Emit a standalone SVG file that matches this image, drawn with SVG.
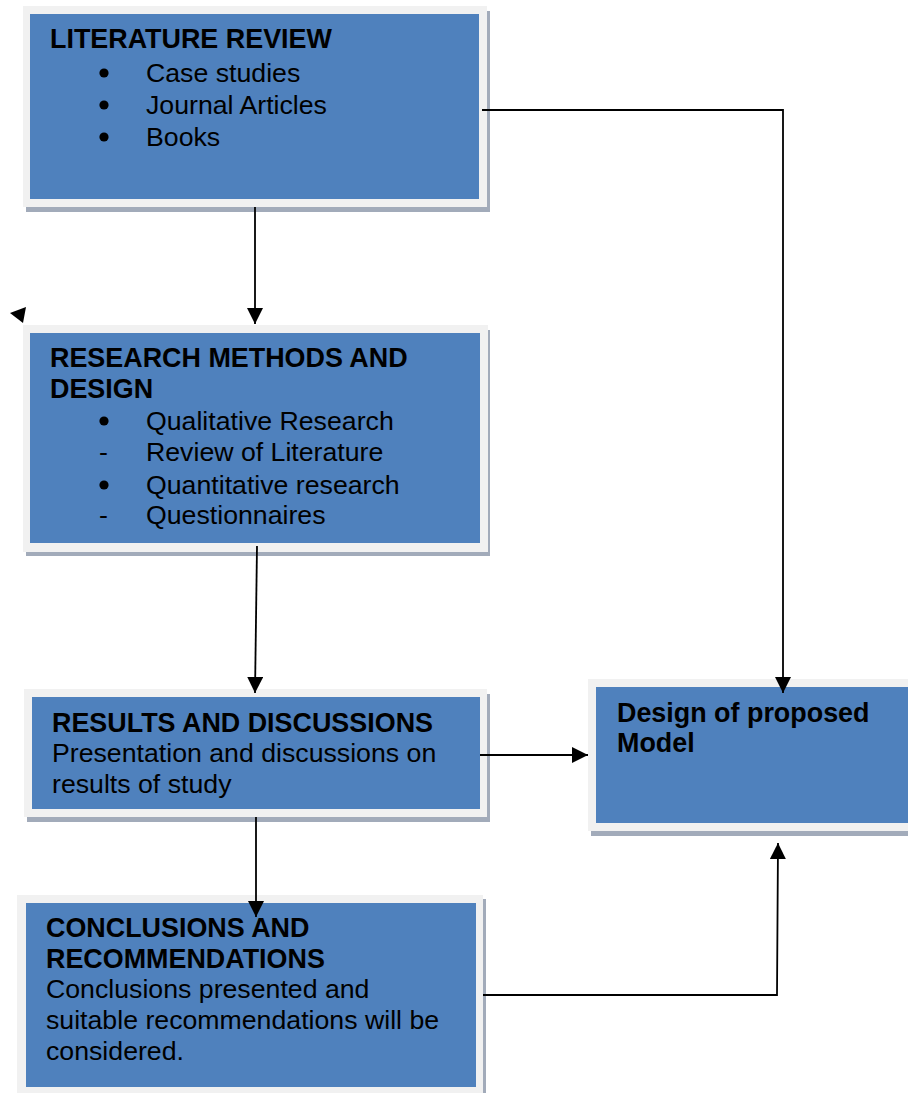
<svg xmlns="http://www.w3.org/2000/svg" width="908" height="1093" viewBox="0 0 908 1093">
  <style>
    .frame { fill: #f1f1f1; }
    .panel { fill: #4f81bd; }
    .shadow { fill: #a2abba; }
    .t { font-family: "Liberation Sans", Arial, sans-serif; font-size: 26.7px; fill: #000; }
    .b { font-weight: bold; font-size: 26.9px; }
    .dot { fill: #000; }
    .wire { fill: none; stroke: #000; stroke-width: 1.8; }
  </style>
  <defs>
    <marker id="arrow" markerUnits="userSpaceOnUse" markerWidth="16" markerHeight="16" refX="16" refY="8" orient="auto">
      <path d="M0,0 L16,8 L0,16 z" fill="#000"/>
    </marker>
  </defs>
  <rect width="908" height="1093" fill="#fff"/>

  <!-- Literature review -->
  <g id="literature-review">
    <rect class="shadow" x="26" y="11" width="464" height="201"/>
    <rect class="frame" x="23" y="6" width="464" height="201"/>
    <rect class="panel" x="30" y="14" width="449" height="185"/>
    <text class="t b" x="50" y="48">LITERATURE REVIEW</text>
    <circle class="dot" cx="104" cy="73" r="4.6"/>
    <text class="t" x="146" y="82">Case studies</text>
    <circle class="dot" cx="104" cy="105" r="4.6"/>
    <text class="t" x="146" y="114">Journal Articles</text>
    <circle class="dot" cx="104" cy="137" r="4.6"/>
    <text class="t" x="146" y="146">Books</text>
  </g>

  <!-- Research methods and design -->
  <g id="research-methods">
    <rect class="shadow" x="26" y="330" width="464" height="226"/>
    <rect class="frame" x="23" y="325" width="465" height="227"/>
    <rect class="panel" x="30" y="333" width="450" height="210"/>
    <text class="t b" x="50" y="367">RESEARCH METHODS AND</text>
    <text class="t b" x="50" y="398">DESIGN</text>
    <circle class="dot" cx="104" cy="421" r="4.6"/>
    <text class="t" x="146" y="430">Qualitative Research</text>
    <text class="t" x="99" y="461">-</text>
    <text class="t" x="146" y="461">Review of Literature</text>
    <circle class="dot" cx="104" cy="485" r="4.6"/>
    <text class="t" x="146" y="494">Quantitative research</text>
    <text class="t" x="99" y="524">-</text>
    <text class="t" x="146" y="524">Questionnaires</text>
  </g>

  <!-- Results and discussions -->
  <g id="results">
    <rect class="shadow" x="27" y="694" width="463" height="128"/>
    <rect class="frame" x="24" y="689" width="463" height="128"/>
    <rect class="panel" x="32" y="697" width="448" height="112"/>
    <text class="t b" x="52" y="732">RESULTS AND DISCUSSIONS</text>
    <text class="t" x="52" y="762">Presentation and discussions on</text>
    <text class="t" x="52" y="793">results of study</text>
  </g>

  <!-- Design of proposed model -->
  <g id="proposed-model">
    <rect class="shadow" x="591" y="684" width="330" height="152"/>
    <rect class="frame" x="588" y="679" width="330" height="152"/>
    <rect class="panel" x="596" y="687" width="322" height="136"/>
    <text class="t b" x="617" y="722">Design of proposed</text>
    <text class="t b" x="617" y="752">Model</text>
  </g>

  <!-- Conclusions and recommendations -->
  <g id="conclusions">
    <rect class="shadow" x="20" y="899" width="466" height="200"/>
    <rect class="frame" x="17" y="895" width="466" height="200"/>
    <rect class="panel" x="26" y="903" width="450" height="184"/>
    <text class="t b" x="46" y="937">CONCLUSIONS AND</text>
    <text class="t b" x="46" y="968">RECOMMENDATIONS</text>
    <text class="t" x="46" y="998">Conclusions presented and</text>
    <text class="t" x="46" y="1029">suitable recommendations will be</text>
    <text class="t" x="46" y="1060">considered.</text>
  </g>

  <!-- Connectors -->
  <g id="connectors">
    <polyline class="wire" points="482,110 783,110 783,693" marker-end="url(#arrow)"/>
    <line class="wire" x1="255" y1="207" x2="255" y2="324" marker-end="url(#arrow)"/>
    <line class="wire" x1="257" y1="546" x2="255" y2="693" marker-end="url(#arrow)"/>
    <line class="wire" x1="256" y1="817" x2="256" y2="917" marker-end="url(#arrow)"/>
    <line class="wire" x1="480" y1="755" x2="588" y2="755" marker-end="url(#arrow)"/>
    <polyline class="wire" points="483,995 777,995 778,843" marker-end="url(#arrow)"/>
    <polygon points="10,313 26,307 23,323" fill="#000"/>
  </g>
</svg>
